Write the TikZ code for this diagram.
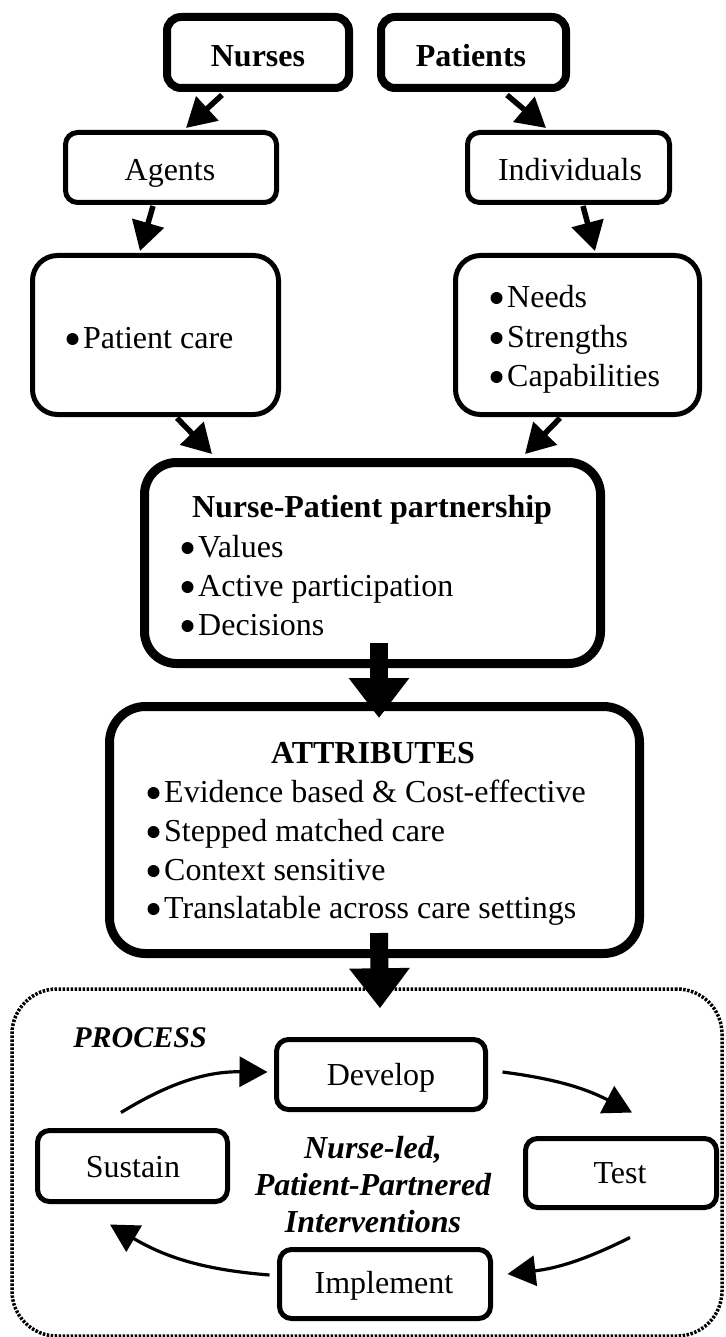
\documentclass[tikz,border=0pt]{standalone}
\usepackage{fontspec}
\setmainfont{Liberation Serif}
\usetikzlibrary{arrows.meta,calc}
\begin{document}
\begin{tikzpicture}[x=1pt,y=-1pt,
  heavybox/.style={draw,line width=8pt,rounded corners=14pt,inner sep=0pt},
  thinbox/.style={draw,line width=5pt,rounded corners=12pt,inner sep=0pt},
  softbox/.style={draw,line width=5pt,rounded corners=25pt,inner sep=0pt},
  hugebox/.style={draw,line width=9pt,rounded corners=32pt,inner sep=0pt},
  procbox/.style={draw,line width=3.5pt,dash pattern=on 2.5pt off 1.5pt,rounded corners=45pt,inner sep=0pt},
  txt/.style={anchor=base,inner sep=0pt,font=\fontsize{32}{40}\selectfont},
  txtb/.style={txt,font=\fontsize{32}{40}\selectfont\bfseries},
  txtbi/.style={txt,font=\fontsize{32}{40}\selectfont\bfseries\itshape},
  txtl/.style={txt,anchor=base west},
  dot/.style={circle,fill,inner sep=0pt,minimum size=12pt},
  conn/.style={line width=5.5pt,-{Triangle[length=29pt,width=32pt]}},
  bigarrow/.style={line width=18pt,-{Triangle[length=40pt,width=58pt]}},
  cyc/.style={line width=3.2pt,-{Triangle[length=28pt,width=30pt]}}
]
\useasboundingbox (0,0) rectangle (725,1337);

% boxes
\node[heavybox,minimum width=182pt,minimum height=71pt] (nurses) at (258,52.5) {};
\node[heavybox,minimum width=185pt,minimum height=71pt] (patients) at (473.5,52.5) {};
\node[thinbox,minimum width=211pt,minimum height=70pt] (agents) at (171,167.5) {};
\node[thinbox,minimum width=202pt,minimum height=70pt] (indiv) at (568.5,167.5) {};
\node[softbox,minimum width=246pt,minimum height=159pt] (care) at (155.5,335) {};
\node[softbox,minimum width=244pt,minimum height=159pt] (needs) at (577.5,335) {};
\node[hugebox,minimum width=456pt,minimum height=201pt] (npp) at (372.5,563) {};
\node[hugebox,minimum width=530pt,minimum height=247pt,rounded corners=36pt] (attr) at (374.5,830) {};
\node[procbox,minimum width=710pt,minimum height=347pt] (process) at (367,1162.5) {};
\node[thinbox,minimum width=209pt,minimum height=70pt] (develop) at (381,1074.5) {};
\node[thinbox,minimum width=191pt,minimum height=69pt] (test) at (621,1173) {};
\node[thinbox,minimum width=190pt,minimum height=71pt] (sustain) at (132.5,1166) {};
\node[thinbox,minimum width=211pt,minimum height=69pt] (implement) at (385,1284) {};

% texts
\node[txtb] (tnurses) at (258,67) {Nurses};
\node[txtb] (tpatients) at (471,67) {Patients};
\node[txt] (tagents) at (170,181) {Agents};
\node[txt] (tindiv) at (570,181) {Individuals};
\node[txtl] (tcare) at (83,348) {Patient care};
\node[txtl] (tneeds) at (507,307) {Needs};
\node[txtl] (tstrengths) at (507,347) {Strengths};
\node[txtl] (tcap) at (507,386) {Capabilities};
\node[txtb] (tnpp) at (372,517) {Nurse-Patient partnership};
\node[txtl] (tvalues) at (198,557) {Values};
\node[txtl] (tactive) at (198,596) {Active participation};
\node[txtl] (tdecisions) at (198,635) {Decisions};
\node[txtb] (tattr) at (373,763) {ATTRIBUTES};
\node[txtl] (te1) at (164,802) {Evidence based \& Cost-effective};
\node[txtl] (te2) at (164,841) {Stepped matched care};
\node[txtl] (te3) at (164,880) {Context sensitive};
\node[txtl] (te4) at (164,918) {Translatable across care settings};
\node[txtbi,font=\fontsize{30}{36}\selectfont\bfseries\itshape] (tprocess) at (140,1047) {PROCESS};
\node[txt] (tdevelop) at (381,1085) {Develop};
\node[txt] (ttest) at (620,1183) {Test};
\node[txt] (tsustain) at (133,1177) {Sustain};
\node[txt] (timplement) at (384,1293) {Implement};
\node[txtbi] (tc1) at (373,1158) {Nurse-led,};
\node[txtbi] (tc2) at (373,1195) {Patient-Partnered};
\node[txtbi] (tc3) at (373,1232) {Interventions};

% bullets
\foreach \t in {tcare,tneeds,tstrengths,tcap,tvalues,tactive,tdecisions,te1,te2,te3,te4}
  \node[dot] (b\t) at ($(\t.base west)+(-10.5,-9)$) {};

% top connectors
\draw[conn] ($(nurses.south)+(-36,3)$) -- ($(agents.north)+(15,-2)$);
\draw[conn] ($(patients.south)+(33.5,3)$) -- ($(indiv.north)+(-22.5,-2)$);
\draw[conn] ($(agents.south)+(-18,1)$) -- ($(care.north)+(-15.5,-2)$);
\draw[conn] ($(indiv.south)+(14.5,1)$) -- ($(needs.north)+(17.5,-2)$);
\draw[conn] ($(care.south)+(21.5,1)$) -- ($(npp.north)+(-160.5,-4)$);
\draw[conn] ($(needs.south)+(-17.5,1)$) -- ($(npp.north)+(152.5,-4)$);

% thick arrows
\draw[bigarrow] ($(npp.south)+(6.5,-25)$) -- ($(attr.north)+(4.5,16)$);
\draw[bigarrow] ($(attr.south)+(4.5,-25)$) -- ($(process.north)+(13,21)$);

% cycle
\coordinate (a1) at ($(sustain.north)+(-11.5,-15.5)$);
\coordinate (a2) at ($(develop.west)+(-6.5,-2.5)$);
\coordinate (b1) at ($(develop.east)+(14.5,-2.5)$);
\coordinate (b2) at ($(test.north)+(11,-23.5)$);
\coordinate (c1) at ($(test.south)+(9,27.5)$);
\coordinate (c2) at ($(implement.east)+(14.5,-10)$);
\coordinate (d1) at ($(implement.west)+(-7.5,-9)$);
\coordinate (d2) at ($(sustain.south)+(-22.5,20.5)$);
\draw[cyc] (a1) to[bend left=16] (a2);
\draw[cyc] (b1) to[bend left=10] (b2);
\draw[cyc] (c1) to[bend left=10] (c2);
\draw[cyc] (d1) to[bend left=13] (d2);
\end{tikzpicture}
\end{document}
